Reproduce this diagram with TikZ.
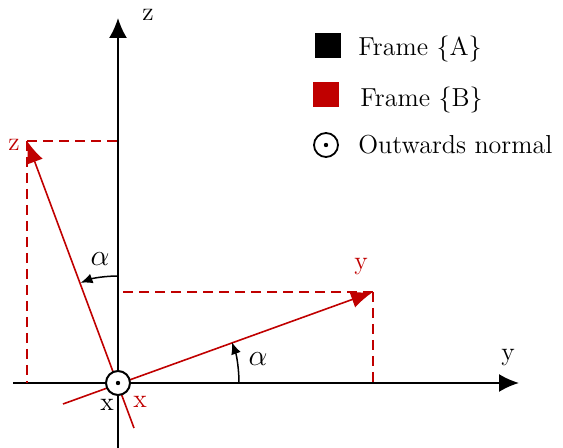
\RequirePackage{fix-cm}
\documentclass[tikz,border=0pt]{standalone}
\usetikzlibrary{arrows.meta}
\definecolor{fred}{RGB}{192,0,0}
\begin{document}
\begin{tikzpicture}[x=0.5pt,y=-0.5pt,
  lbl/.style={font=\fontsize{13}{15}\selectfont, inner sep=0pt},
  albl/.style={font=\fontsize{15}{17}\selectfont, inner sep=0pt},
  axis/.style={line width=1pt,-{Latex[length=10pt,width=9pt]}},
  raxis/.style={fred,line width=0.8pt,-{Latex[length=11pt,width=8.5pt]}},
  rdash/.style={fred,line width=0.75pt,dash pattern=on 5pt off 3pt},
  angarr/.style={line width=0.75pt,-{Latex[length=6pt,width=5pt]}},
  origin/.style={circle,draw,line width=1pt,fill=white,minimum size=12pt,inner sep=0pt}]
\useasboundingbox (0,0) rectangle (563,448);
% coordinates
\coordinate (O) at (118,383);
\coordinate (Ztop) at (118,18);
\coordinate (Zbot) at (118,448);
\coordinate (Yleft) at (13,383);
\coordinate (Yright) at (519,383);
\coordinate (zb) at (27,141);
\coordinate (yb) at (373,292);
\coordinate (zbneg) at (134,428);
\coordinate (ybneg) at (63,404);
\coordinate (zproj) at (118,141);
\coordinate (zfoot) at (27,383);
\coordinate (yproj) at (118,292);
\coordinate (yfoot) at (373,383);
% frame A axes
\draw[line width=1pt] (O) -- (Zbot);
\draw[line width=1pt] (O) -- (Yleft);
\draw[axis] (O) -- (Ztop);
\draw[axis] (O) -- (Yright);
% dashed projections
\draw[rdash] (zb) -- (zproj);
\draw[rdash] (zb) -- (zfoot);
\draw[rdash] (yb) -- (yproj);
\draw[rdash] (yb) -- (yfoot);
% frame B axes
\draw[raxis] (zbneg) -- (zb);
\draw[raxis] (ybneg) -- (yb);
% angles
\draw[angarr] (118,276) arc[start angle=270, end angle=249.5, radius=107];
\draw[angarr] (239,383) arc[start angle=0, end angle=-19.7, radius=121];
\node[albl] (a1) at (100,259) {$\alpha$};
\node[albl] (a2) at (258,359) {$\alpha$};
% origin
\node[origin] (on) at (O) {};
\fill (O) circle[radius=2.2];
% labels
\node[lbl] (lz) at (148,15) {z};
\node[lbl] (ly) at (508,358) {y};
\node[lbl,text=fred] (lzb) at (14,145) {z};
\node[lbl,text=fred] (lyb) at (361,267) {y};
\node[lbl] (lx) at (107,405) {x};
\node[lbl,text=fred] (lxb) at (140,402) {x};
% legend
\node[fill=black,minimum width=13pt,minimum height=12.5pt,inner sep=0pt] (sqA) at (328,45.5) {};
\node[fill=fred,minimum width=13pt,minimum height=12.5pt,inner sep=0pt] (sqB) at (326,94.5) {};
\node[circle,draw,line width=0.9pt,minimum size=12pt,inner sep=0pt] (nc) at (326,145) {};
\fill (nc.center) circle[radius=2.2];
\node[lbl,anchor=west] (tA) at (358,49) {Frame \{A\}};
\node[lbl,anchor=west] (tB) at (360,100) {Frame \{B\}};
\node[lbl,anchor=west] (tN) at (358,145) {Outwards normal};
\end{tikzpicture}
\end{document}
